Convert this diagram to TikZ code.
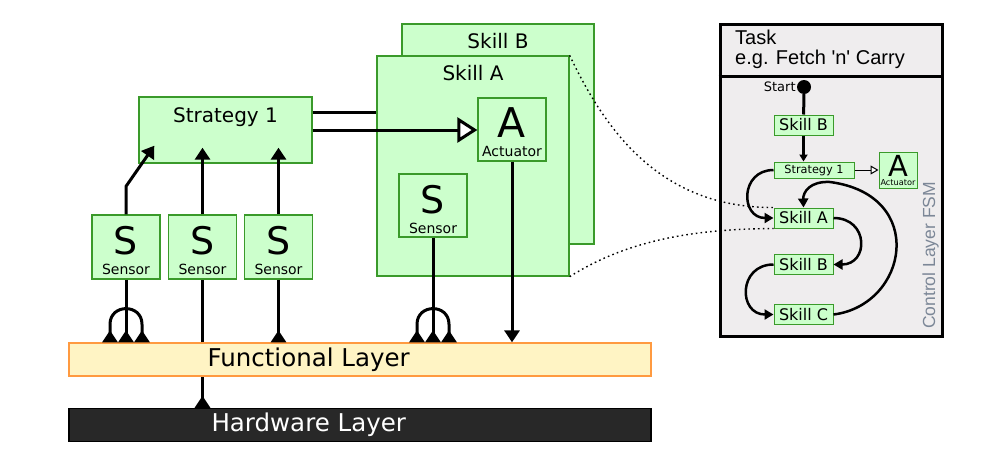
\documentclass[tikz,border=0pt]{standalone}
\usepackage{fontspec}
\setmainfont{DejaVu Sans}
\newfontfamily\taskfont{Liberation Sans}
\usetikzlibrary{arrows.meta}
\definecolor{skillFill}{HTML}{CCFFCC}
\definecolor{skillLine}{HTML}{3A9A2A}
\definecolor{funcFill}{HTML}{FFF4C4}
\definecolor{funcLine}{HTML}{FF9A40}
\definecolor{hwFill}{HTML}{282828}
\definecolor{panelFill}{HTML}{EFEDEE}
\definecolor{fsmGrey}{HTML}{7C8797}
\newcommand{\fsz}[2]{\fontsize{#1pt}{#2pt}\selectfont}

\begin{document}
\begin{tikzpicture}
[x=1pt,y=-1pt,
  greenBox/.style={shape=rectangle,draw=skillLine,fill=skillFill,line width=1.3pt,inner sep=0pt},
  sensorBox/.style={greenBox,minimum width=68pt,minimum height=64pt,align=center,font=\fsz{14}{20}},
  layerBox/.style={shape=rectangle,minimum width=582pt,minimum height=33pt,inner sep=0pt,line width=1.3pt},
  fsmBox/.style={greenBox,line width=1pt,minimum width=59pt,minimum height=20pt,font=\fsz{16}{16}},
  wire/.style={line width=3pt},
  headTip/.style={-{Triangle[width=15pt,length=12pt]}},
  baseTip/.style={-{Triangle[reversed,width=15pt,length=12pt]}},
  archTip/.style={{Triangle[reversed,width=15pt,length=12pt]}-{Triangle[reversed,width=15pt,length=12pt]}},
  fsmWire/.style={line width=2.5pt,-{Triangle[width=10pt,length=9pt]}},
  linkDots/.style={line width=1.4pt,dash pattern=on 1.6pt off 3.2pt}]
\useasboundingbox (0,0) rectangle (1008,472);

%% skills with their sensor and actuator
\node (skillB) at (498,134) [greenBox,minimum width=192pt,minimum height=220pt,
  label={[anchor=north,yshift=-9.8pt,inner sep=0pt,font=\fsz{20}{20}]north:Skill B}] {};
\node (skillA) at (473,166) [greenBox,minimum width=192pt,minimum height=220pt,
  label={[anchor=north,yshift=-9.8pt,inner sep=0pt,font=\fsz{20}{20}]north:Skill A}] {};
\node (act) at (512,129.5) [greenBox,minimum width=68pt,minimum height=63pt,align=center,font=\fsz{14}{19}]
  {{\fsz{41}{19}\rule{0pt}{36pt}A}\\Actuator};
\node (sSkill) at (433,205.5) [sensorBox,minimum height=63pt] {{\fsz{38}{20}\rule{0pt}{36pt}S}\\Sensor};

%% strategy and its sensors
\node (strat) at (225.5,130) [greenBox,minimum width=173pt,minimum height=66pt,
  label={[anchor=north,yshift=-11.5pt,inner sep=0pt,font=\fsz{20}{20}]north:Strategy 1}] {};
\foreach \nodename/\x in {s1/126, s2/202.5, s3/278.5} {
  \node (\nodename) at (\x,247) [sensorBox] {{\fsz{38}{20}\rule{0pt}{36pt}S}\\Sensor};
}

%% layers
\node (func) at (360,359.5) [layerBox,draw=funcLine,fill=funcFill,
  label={[anchor=west,xshift=139pt,inner sep=0pt,font=\fsz{24.5}{24.5}]west:Functional Layer}] {};
\node (hw) at (360,425) [layerBox,draw=black,fill=hwFill,
  label={[anchor=west,xshift=143pt,inner sep=0pt,text=white,font=\fsz{24.5}{24.5}]west:Hardware Layer}] {};

%% task panel
\node (panel) at (831,180) [shape=rectangle,draw,fill=panelFill,line width=3pt,
  minimum width=222pt,minimum height=312pt] {};
\coordinate (headerLine) at (831,76);
\draw[line width=3pt] (panel.west |- headerLine) -- (panel.east |- headerLine);
\node (taskText) at (735,29.4) [anchor=north west,align=left,inner sep=0pt,font=\taskfont\fsz{20}{20}]
  {Task\\e.g. Fetch \textquotesingle n\textquotesingle{} Carry};
\node (fsmLabel) at (935,329) [rotate=90,anchor=base west,inner sep=0pt,text=fsmGrey,
  font=\taskfont\fsz{17.5}{17.5}] {Control Layer FSM};
\node (start) at (804,87) [shape=circle,fill=black,minimum size=14pt,inner sep=0pt] {};
\node (startText) at (start.west) [anchor=east,inner sep=1pt,font=\fsz{13}{13}] {Start};
\node (fsmB1) at (803.5,125) [fsmBox] {Skill B};
\node (fsmStrat) at (814,170) [fsmBox,minimum width=80pt,minimum height=16pt,font=\fsz{11.3}{11.3}] {Strategy 1};
\node (fsmAct) at (898,170) [fsmBox,minimum width=38pt,minimum height=36pt,align=center,font=\fsz{8.2}{9}]
  {{\fsz{29}{9}\rule{0pt}{21pt}A}\\Actuator};
\node (fsmA) at (803.5,218) [fsmBox] {Skill A};
\node (fsmB2) at (803.5,264.5) [fsmBox] {Skill B};
\node (fsmC) at (803.5,314.5) [fsmBox] {Skill C};

%% sensor and actuator wiring
\draw[wire,headTip] (s1.north) -- ++(0,-28) -- ([xshift=16pt,yshift=18pt]strat.south west);
\foreach \nodename in {s2, s3} {
  \draw[wire,headTip] (\nodename.north) -- ([yshift=16pt]\nodename.north |- strat.south);
}
\foreach \nodename in {s1, s3, sSkill} {
  \draw[wire,baseTip] (\nodename.south) -- (\nodename.south |- func.north);
}
\foreach \nodename in {s1, sSkill} {
  \draw[wire,archTip] ([xshift=-16pt]\nodename.south |- func.north) -- ++(0,-18)
    .. controls +(0,-21) and +(0,-21) .. ++(32,0) -- ++(0,18);
}
\draw[wire,{Triangle[reversed,width=15pt,length=12pt]}-] (s2.south |- hw.north) -- (s2.south |- func.south);
\draw[wire] (s2.south |- func.north) -- (s2.south);
\draw[wire] ([yshift=18pt]strat.east) -- ([yshift=18pt]strat.east -| skillA.west);
\draw[wire,-{Triangle[width=25pt,length=20pt,fill=white]}] (strat.east) -- (strat.east -| act.west);
\draw[wire,headTip] (act.south) -- (act.south |- func.north);

%% control layer transitions
\draw[line width=3pt] (start) -- (fsmB1);
\draw[line width=2.5pt,-{Triangle[width=8pt,length=7pt]}] (fsmB1.south) -- (fsmB1.south |- fsmStrat.north);
\draw[line width=1pt,-{Triangle[width=9pt,length=8pt,fill=white]}] (fsmStrat.east) -- (fsmAct.west);
\draw[fsmWire] (fsmStrat.west) .. controls (740,170) and (740,218) .. (fsmA.west);
\draw[fsmWire] (fsmA.east) .. controls (869,218) and (869,264.5) .. (fsmB2.east);
\draw[fsmWire] (fsmB2.west) .. controls (738,264.5) and (738,314.5) .. (fsmC.west);
\draw[fsmWire] (fsmC.east) .. controls (908,305) and (928,195) .. (830,182)
  .. controls (810,181) and (803,192) .. (fsmA.north);

%% links from skill to state
\draw[linkDots] (skillA.north east) .. controls (605,130) and (660,208) .. (fsmA.north west);
\draw[linkDots] (skillA.south east) .. controls (620,245) and (680,229) .. (fsmA.south west);
\end{tikzpicture}
\end{document}
